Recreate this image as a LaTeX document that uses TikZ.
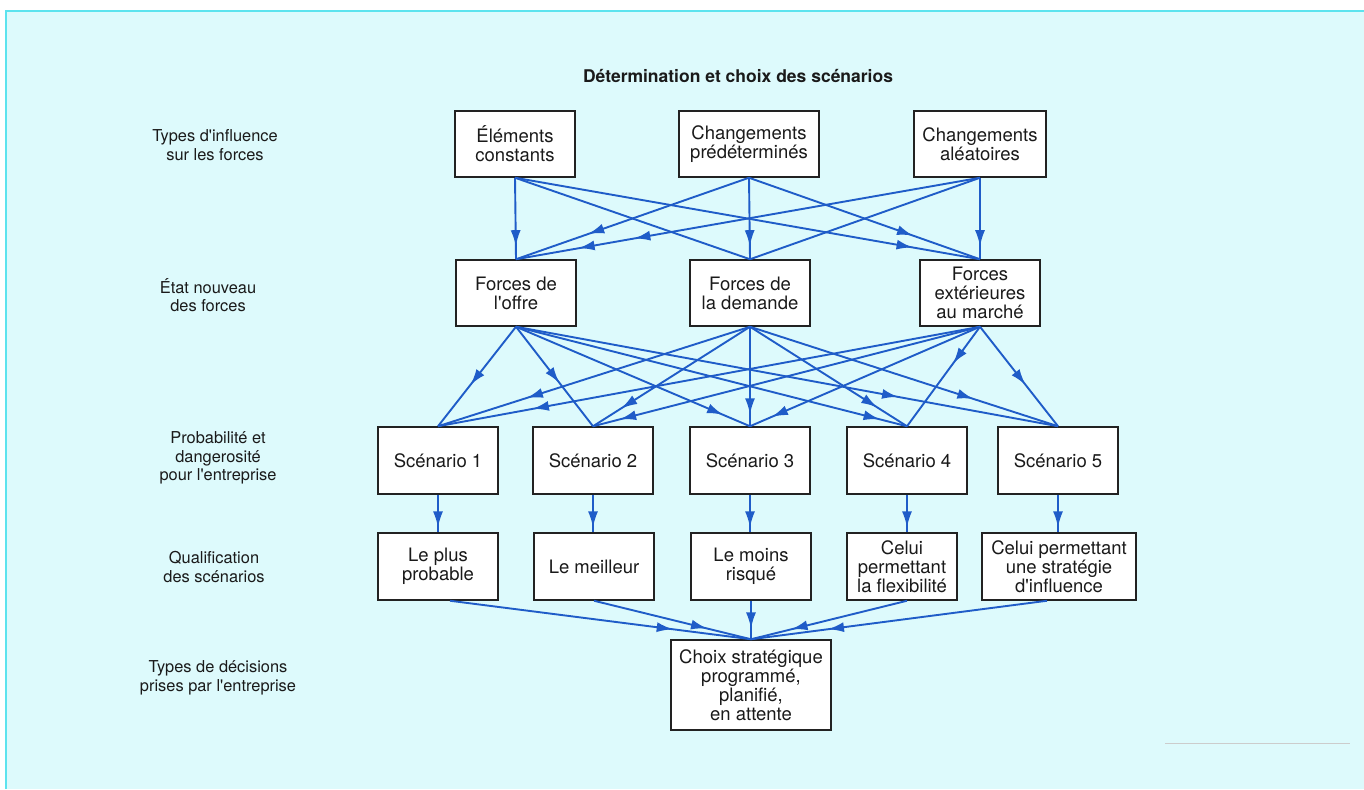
\documentclass[tikz,border=0pt]{standalone}
\usepackage{fontspec}
\setmainfont{TeX Gyre Heros}[Ligatures=TeXOff]
\usetikzlibrary{arrows.meta,decorations.markings}
\definecolor{bgcyan}{HTML}{DDFAFC}
\definecolor{bordercyan}{HTML}{5CE3EE}
\definecolor{arrowblue}{HTML}{1F5CC8}
\definecolor{boxline}{HTML}{222222}
\definecolor{txt}{HTML}{1A1A1A}
\begin{document}
\begin{tikzpicture}[x=1pt,y=-1pt,
  font=\fontsize{18.5}{19}\selectfont,
  box/.style={draw=boxline, line width=1.5pt, fill=white, align=center, inner sep=0pt, text=txt, minimum height=66pt},
  lab/.style={align=center, text=txt, font=\fontsize{16.4}{18.5}\selectfont},
  link/.style={draw, color=arrowblue, line width=1.9pt},
  ahead/.style={postaction={decorate, decoration={markings, mark=at position #1 with {\arrow{Latex[length=16pt,width=10pt]}}}}},
]
\useasboundingbox (0,0) rectangle (1364,789);
\fill[bgcyan] (6,11) rectangle (1364,789);
\draw[bordercyan, line width=1.2pt] (6,789) -- (6,11) -- (1364,11);
\draw[black!20, line width=0.8pt] (1165,743) -- (1350,743);

% title
\node[lab, font=\bfseries\fontsize{17.5}{19}\selectfont] (title) at (738,76) {Détermination et choix des scénarios};

% left labels
\node[lab] (l1) at (215,145) {Types d'influence\\sur les forces};
\node[lab] (l2) at (208,295) {État nouveau\\des forces};
\node[lab] (l3) at (218,458) {Probabilité et\\dangerosité\\pour l'entreprise};
\node[lab] (l4) at (214,567) {Qualification\\des scénarios};
\node[lab] (l5) at (218,678) {Types de décisions\\prises par l'entreprise};

% row 1
\node[box, minimum width=120pt] (e1) at (515,144) {Éléments\\constants};
\node[box, minimum width=140pt] (e2) at (749,144) {Changements\\prédéterminés};
\node[box, minimum width=132pt] (e3) at (980,144) {Changements\\aléatoires};
% row 2
\node[box, minimum width=120pt] (f1) at (516,293) {Forces de\\l'offre};
\node[box, minimum width=120pt] (f2) at (750,293) {Forces de\\la demande};
\node[box, minimum width=120pt] (f3) at (980,293) {Forces\\extérieures\\au marché};
% row 3
\node[box, minimum width=120pt, minimum height=67pt] (s1) at (438,460.5) {Scénario 1};
\node[box, minimum width=120pt, minimum height=67pt] (s2) at (593,460.5) {Scénario 2};
\node[box, minimum width=120pt, minimum height=67pt] (s3) at (750,460.5) {Scénario 3};
\node[box, minimum width=120pt, minimum height=67pt] (s4) at (907,460.5) {Scénario 4};
\node[box, minimum width=120pt, minimum height=67pt] (s5) at (1058,460.5) {Scénario 5};
% row 4
\node[box, minimum width=120pt, minimum height=67pt] (q1) at (438,566.5) {Le plus\\probable};
\node[box, minimum width=120pt, minimum height=67pt] (q2) at (594,566.5) {Le meilleur};
\node[box, minimum width=120pt, minimum height=67pt] (q3) at (751,566.5) {Le moins\\risqué};
\node[box, minimum width=110pt, minimum height=67pt] (q4) at (902,566.5) {Celui\\permettant\\la flexibilité};
\node[box, minimum width=154pt, minimum height=67pt] (q5) at (1059,566.5) {Celui permettant\\une stratégie\\d'influence};
% row 5
\node[box, minimum width=160pt, minimum height=90pt] (c) at (751,685) {Choix stratégique\\programmé,\\planifié,\\en attente};

% row 1 -> row 2
\draw[link, ahead=0.84] (e1.south) -- (f1.north);
\draw[link] (e1.south) -- (f2.north);
\draw[link, ahead=0.855] (e1.south) -- (f3.north);
\draw[link, ahead=0.69] (e2.south) -- (f1.north);
\draw[link, ahead=0.84] (e2.south) -- (f2.north);
\draw[link, ahead=0.71] (e2.south) -- (f3.north);
\draw[link, ahead=0.745, ahead=0.865] (e3.south) -- (f1.north);
\draw[link] (e3.south) -- (f2.north);
\draw[link, ahead=0.84] (e3.south) -- (f3.north);

% row 2 -> row 3
\draw[link, ahead=0.585] (f1.south) -- (s1.north);
\draw[link, ahead=0.565] (f1.south) -- (s2.north);
\draw[link, ahead=0.885] (f1.south) -- (s3.north);
\draw[link, ahead=0.93] (f1.south) -- (s4.north);
\draw[link, ahead=0.705] (f1.south) -- (s5.north);
\draw[link, ahead=0.715] (f2.south) -- (s1.north);
\draw[link, ahead=0.82] (f2.south) -- (s2.north);
\draw[link, ahead=0.88] (f2.south) -- (s3.north);
\draw[link, ahead=0.81] (f2.south) -- (s4.north);
\draw[link, ahead=0.725] (f2.south) -- (s5.north);
\draw[link, ahead=0.825] (f3.south) -- (s1.north);
\draw[link, ahead=0.93] (f3.south) -- (s2.north);
\draw[link, ahead=0.905] (f3.south) -- (s3.north);
\draw[link, ahead=0.37] (f3.south) -- (s4.north);
\draw[link, ahead=0.585] (f3.south) -- (s5.north);

% row 3 -> row 4
\draw[link, ahead=0.87] (s1.south) -- (q1.north -| s1.south);
\draw[link, ahead=0.87] (s2.south) -- (q2.north -| s2.south);
\draw[link, ahead=0.87] (s3.south) -- (q3.north -| s3.south);
\draw[link, ahead=0.87] (s4.south) -- (q4.north -| s4.south);
\draw[link, ahead=0.87] (s5.south) -- (q5.north -| s5.south);

% row 4 -> row 5
\draw[link, ahead=0.74] ([xshift=12pt]q1.south) -- (c.north);
\draw[link, ahead=0.72] (q2.south) -- (c.north);
\draw[link, ahead=0.72] (q3.south) -- (c.north);
\draw[link, ahead=0.74] ([xshift=5pt]q4.south) -- (c.north);
\draw[link, ahead=0.74] ([xshift=-12pt]q5.south) -- (c.north);
\end{tikzpicture}
\end{document}
